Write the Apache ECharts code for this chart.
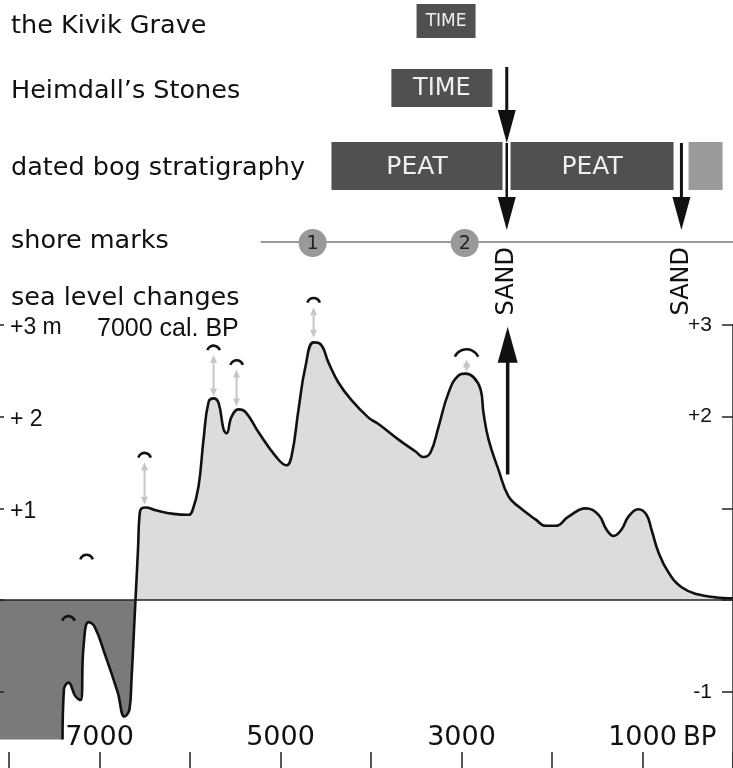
<!DOCTYPE html>
<html>
<head>
<meta charset="utf-8">
<script src="https://cdn.jsdelivr.net/npm/echarts@6.0.0/dist/echarts.min.js"></script>
<style>
html,body{margin:0;padding:0;background:#ffffff;}
#chart{width:733px;height:768px;}
</style>
</head>
<body>
<div id="chart"></div>
<script>
// ======================= DATA =======================
// Sea-level curve: years BP and level in metres
const curveYears = [7409, 7394, 7343, 7266, 7210, 7177, 7122, 7055, 6934, 6801, 6724, 6669, 6647, 6619, 6603, 6575, 6558, 6536, 6492, 6381, 6182, 6016, 5972, 5906, 5851, 5795, 5740, 5685, 5629, 5596, 5541, 5464, 5386, 5243, 5055, 4934, 4878, 4801, 4724, 4635, 4558, 4470, 4359, 4216, 4028, 3918, 3696, 3508, 3420, 3343, 3254, 3144, 3033, 2956, 2867, 2790, 2757, 2701, 2591, 2481, 2370, 2182, 2072, 1961, 1818, 1630, 1486, 1398, 1320, 1232, 1155, 1044, 956, 901, 823, 712, 568, 380, 192, 49, 0];
const curveLevels = [-1.52, -0.98, -0.90, -1.05, -1.09, -0.51, -0.24, -0.29, -0.61, -1.00, -1.27, -1.19, -0.87, -0.32, 0.00, 0.55, 0.93, 1.00, 1.01, 0.98, 0.94, 0.93, 0.98, 1.24, 1.75, 2.16, 2.20, 2.15, 1.86, 1.82, 2.00, 2.08, 2.05, 1.83, 1.57, 1.47, 1.57, 2.08, 2.55, 2.81, 2.79, 2.59, 2.37, 2.18, 1.99, 1.92, 1.75, 1.62, 1.56, 1.61, 1.89, 2.26, 2.45, 2.47, 2.43, 2.30, 2.04, 1.75, 1.42, 1.13, 1.02, 0.88, 0.81, 0.81, 0.91, 1.00, 0.93, 0.77, 0.70, 0.77, 0.91, 0.99, 0.93, 0.77, 0.52, 0.30, 0.14, 0.06, 0.03, 0.02, 0.02];
// Submerged lowstand before the curve starts
const lowstandFrom = 8100;
const lowstandLevel = -1.52;

// Axis ticks / labels
const yearTicks = [0, 1000, 2000, 3000, 4000, 5000, 6000, 7000, 8000];
const yearAxisLabels = [7000, 5000, 3000, 1000];
const leftLevelLabels = {'3': '+3 m', '2': '+ 2', '1': '+1'};
const rightLevelLabels = {'3': '+3', '2': '+2', '-1': '-1'};

// Row labels
const rowNames = ['the Kivik Grave', 'Heimdall\u2019s Stones', 'dated bog stratigraphy', 'shore marks', 'sea level changes'];
const rowKeys = ['kivik', 'heimdall', 'bog', 'shore', 'sea'];

// Dated periods (years BP)
const periodRows = ['kivik', 'heimdall', 'bog', 'bog', 'bog'];
const periodStart = [3497, 3775, 4437, 2458, 491];
const periodEnd = [2845, 2659, 2547, 657, 115];
const periodText = ['TIME', 'TIME', 'PEAT', 'PEAT', ''];

// Sand layers (years BP)
const sandYears = [2500, 570];
const sandArrowFromRow = ['heimdall', 'bog'];

// Transgression arrow (year BP, from level, to level)
const riseYears = [2490];
const riseFrom = [1.37];
const riseTo = [2.98];

// Shore marks
const shoreLineFrom = [5220];
const shoreLineTo = [0];
const shoreMarkYears = [4645, 2965];
const shoreMarkText = ['1', '2'];

// Shore-level indicators (arcs) and gray uplift arrows
const indicatorYears = [7343, 7144, 6503, 5740, 5486, 4635, 2944];
const indicatorLevels = [-0.20, 0.47, 1.58, 2.75, 2.59, 3.27, 2.70];
const indicatorTargets = [null, null, 1.04, 2.22, 2.11, 2.86, 2.49];

// ======================= LAYOUT / STYLE =======================
const ROW = {
  kivik: {top: 4, bottom: 38, label: 25, font: 17},
  heimdall: {top: 69, bottom: 107, label: 90, font: 24},
  bog: {top: 142, bottom: 190, label: 167, font: 25},
  shore: {y: 242, label: 240},
  sea: {label: 297}
};
const INK = '#111111';
const DARK = '#505050';
const LIGHTBOX = '#9a9a9a';
const FILL_POS = '#dcdcdc';
const FILL_NEG = '#7a7a7a';
const ARROW_GRAY = '#c6c6c6';
const SMOOTH = 0.45;
const indicatorRadius = [6.5, 6.5, 6.5, 6.5, 6.5, 6.5, 13];
const F1 = '"DejaVu Sans"';
const F2 = '"Liberation Sans"';

// ======================= BUILD =======================
const curve = curveYears.map((y, i) => [y, curveLevels[i]]);
const fillData = [[lowstandFrom, lowstandLevel]].concat(curve);

function tri(x, tipY, halfW, len, dir) {
  return {type: 'polygon', shape: {points: [[x - halfW, tipY - dir * len], [x + halfW, tipY - dir * len], [x, tipY]]}, style: {fill: INK}};
}
function seg(x1, y1, x2, y2, w, c) {
  return {type: 'line', shape: {x1: x1, y1: y1, x2: x2, y2: y2}, style: {stroke: c || INK, lineWidth: w}};
}
function safe(fn) {
  return function (params, api) {
    try { return fn(params, api); } catch (e) { console.log('renderItem error: ' + e.message); return null; }
  };
}

function renderPeriod(params, api) {
  const i = params.dataIndex;
  const xa = api.coord([api.value(0), 0])[0];
  const xb = api.coord([api.value(2), 0])[0];
  const r = ROW[periodRows[i]];
  const x = Math.min(xa, xb), w = Math.abs(xb - xa);
  const ch = [{type: 'rect', shape: {x: x, y: r.top, width: w, height: r.bottom - r.top}, style: {fill: periodText[i] ? DARK : LIGHTBOX}}];
  if (periodText[i]) {
    ch.push({type: 'text', x: x + w / 2, y: (r.top + r.bottom) / 2 + 1,
      style: {text: periodText[i], fill: '#f0f0f0', font: r.font + 'px ' + F1, align: 'center', verticalAlign: 'middle'}});
  }
  return {type: 'group', children: ch};
}

function renderSand(params, api) {
  const i = params.dataIndex;
  const x = api.coord([api.value(0), 0])[0];
  const tip1 = ROW.bog.top + 1;
  const tip2 = ROW.shore.y - 12;
  const halfW = 9, len = 33;
  const ch = [];
  if (sandArrowFromRow[i] === 'heimdall') {
    ch.push(seg(x, ROW.heimdall.top - 2, x, tip1 - len + 3, 3));
    ch.push(tri(x, tip1, halfW, len, 1));
    ch.push(seg(x, tip1, x, tip2 - len + 3, 2.5));
  } else {
    ch.push(seg(x, tip1, x, tip2 - len + 3, 3));
  }
  ch.push(tri(x, tip2, halfW, len, 1));
  ch.push({type: 'text', x: x, y: ROW.shore.y + 5, rotation: Math.PI / 2,
    style: {text: 'SAND', fill: INK, font: '24px ' + F1, align: 'right', verticalAlign: 'middle'}});
  return {type: 'group', children: ch};
}

function renderRise(params, api) {
  const p1 = api.coord([api.value(0), api.value(1)]);
  const p2 = api.coord([api.value(0), api.value(2)]);
  return {type: 'group', children: [
    seg(p1[0], p1[1], p2[0], p2[1] + 33, 3.5),
    tri(p2[0], p2[1], 10, 36, -1)
  ]};
}

function renderShoreLine(params, api) {
  const xa = api.coord([api.value(0), 0])[0];
  const xb = api.coord([api.value(2), 0])[0];
  return seg(xa, ROW.shore.y, xb, ROW.shore.y, 2, '#9a9a9a');
}

function renderShoreMark(params, api) {
  const i = params.dataIndex;
  const x = api.coord([api.value(0), 0])[0];
  return {type: 'group', children: [
    {type: 'circle', shape: {cx: x, cy: ROW.shore.y + 1, r: 14}, style: {fill: '#999999'}},
    {type: 'text', x: x, y: ROW.shore.y + 2, style: {text: shoreMarkText[i], fill: '#222', font: '19px ' + F1, align: 'center', verticalAlign: 'middle'}}
  ]};
}

function renderIndicator(params, api) {
  const i = params.dataIndex;
  const p = api.coord([api.value(0), api.value(1)]);
  const r = indicatorRadius[i];
  const ch = [];
  if (indicatorTargets[i] !== null) {
    const yb = api.coord([api.value(0), indicatorTargets[i]])[1];
    const yt = p[1] + 7;
    ch.push(seg(p[0], yt + 4, p[0], yb - 4, 2, ARROW_GRAY));
    ch.push({type: 'polygon', shape: {points: [[p[0] - 3.5, yt + 8], [p[0] + 3.5, yt + 8], [p[0], yt]]}, style: {fill: ARROW_GRAY}});
    ch.push({type: 'polygon', shape: {points: [[p[0] - 3.5, yb - 8], [p[0] + 3.5, yb - 8], [p[0], yb]]}, style: {fill: ARROW_GRAY}});
  }
  const a = r > 10 ? 0.45 : 0.3;
  ch.push({type: 'arc', shape: {cx: p[0], cy: p[1] + (r > 10 ? 0.75 : 0.65) * r, r: r, startAngle: Math.PI + a, endAngle: 2 * Math.PI - a, clockwise: true},
    style: {stroke: INK, lineWidth: 2.6, fill: 'none'}});
  return {type: 'group', children: ch};
}

const graphics = rowNames.map((t, i) => ({
  type: 'text', x: 11, y: ROW[rowKeys[i]].label + 1,
  style: {text: t, fill: INK, font: '25.5px ' + F1, verticalAlign: 'middle'}
}));
graphics.push({type: 'text', x: 97, y: 329, style: {text: '7000 cal. BP', fill: INK, font: '25px ' + F2, verticalAlign: 'middle'}});
graphics.push({type: 'text', x: 683, y: 738, style: {text: 'BP', fill: INK, font: '26px ' + F1, verticalAlign: 'middle'}});

function customSeries(name, render, data, z) {
  return {type: 'custom', name: name, coordinateSystem: 'cartesian2d', xAxisIndex: 0, yAxisIndex: 0,
    z: z || 4, silent: true, clip: false, renderItem: safe(render), data: data, encode: {x: 0, y: 1}};
}

const chart = echarts.init(document.getElementById('chart'), null, {renderer: 'canvas'});
chart.setOption({
  animation: false,
  backgroundColor: '#ffffff',
  grid: {left: 0, right: 0, top: 325, bottom: -15.5, containLabel: false, outerBoundsMode: 'none'},
  xAxis: {
    type: 'value', inverse: true, min: 0, max: 8100, interval: 1000,
    position: 'bottom', offset: -15.5, z: 5,
    axisLine: {show: false, onZero: false},
    axisTick: {show: true, inside: true, length: 16, customValues: yearTicks, lineStyle: {color: '#222', width: 1.5}},
    axisLabel: {show: true, inside: true, margin: 17, color: INK, fontFamily: 'DejaVu Sans', fontSize: 27,
      customValues: yearAxisLabels, formatter: v => yearAxisLabels.indexOf(v) >= 0 ? String(v) : ''},
    splitLine: {show: false}
  },
  yAxis: [{
    type: 'value', min: -2, max: 3, interval: 1, position: 'left', z: 5,
    axisLine: {show: false, onZero: false},
    axisTick: {show: true, inside: true, length: 4, lineStyle: {color: '#222', width: 1.5}},
    axisLabel: {show: true, inside: true, margin: 10, color: INK, fontFamily: 'Liberation Sans', fontSize: 23,
      verticalAlign: 'top', lineHeight: 6, formatter: v => leftLevelLabels[String(v)] || ''},
    splitLine: {show: false}
  }, {
    type: 'value', min: -2, max: 3, interval: 1, position: 'right', z: 5,
    axisLine: {show: true, onZero: false, lineStyle: {color: '#222', width: 1.5}},
    axisTick: {show: true, inside: true, length: 11, lineStyle: {color: '#222', width: 1.5}},
    axisLabel: {show: true, inside: true, margin: 21, color: INK, fontFamily: 'Liberation Sans', fontSize: 21,
      formatter: v => rightLevelLabels[String(v)] || ''},
    splitLine: {show: false}
  }],
  visualMap: {
    type: 'piecewise', show: false, seriesIndex: 0, dimension: 1,
    pieces: [{gte: -3, lt: 0, color: FILL_NEG}, {gte: 0, lte: 4, color: FILL_POS}],
    outOfRange: {color: FILL_POS}
  },
  graphic: graphics,
  series: [
    {
      type: 'line', name: 'fill', data: fillData, z: 1,
      showSymbol: false, smooth: SMOOTH,
      lineStyle: {width: 0, opacity: 0},
      areaStyle: {opacity: 1},
      silent: true
    },
    {
      type: 'line', name: 'sea level', data: curve, z: 3,
      showSymbol: false, smooth: SMOOTH,
      lineStyle: {color: INK, width: 2.6},
      itemStyle: {color: INK},
      silent: true,
      markLine: {silent: true, symbol: ['none', 'none'], label: {show: false},
        lineStyle: {color: '#222', width: 1.5, type: 'solid'}, data: [{yAxis: 0}]}
    },
    customSeries('periods', renderPeriod, periodStart.map((s, i) => [s, 0, periodEnd[i]]), 4),
    customSeries('sand', renderSand, sandYears.map(y => [y, 0]), 4),
    {type: 'custom', name: 'rise', coordinateSystem: 'cartesian2d', xAxisIndex: 0, yAxisIndex: 0, z: 4, silent: true, clip: false,
      renderItem: safe(renderRise), data: riseYears.map((y, i) => [y, riseFrom[i], riseTo[i]]), encode: {x: 0, y: [1, 2]}},
    customSeries('shoreLine', renderShoreLine, shoreLineFrom.map((y, i) => [y, 0, shoreLineTo[i]]), 3),
    customSeries('shoreMarks', renderShoreMark, shoreMarkYears.map(y => [y, 0]), 4),
    customSeries('indicators', renderIndicator, indicatorYears.map((y, i) => [y, indicatorLevels[i]]), 4)
  ]
});
</script>
</body>
</html>
